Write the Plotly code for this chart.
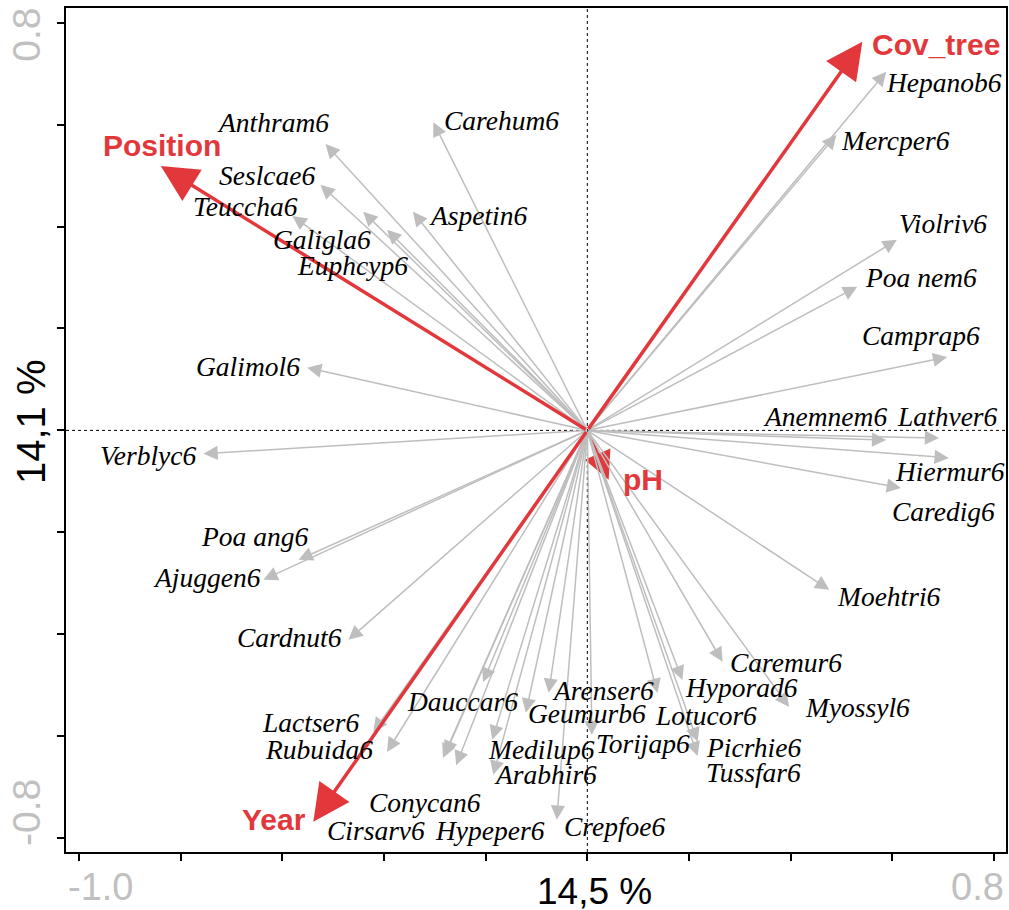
import plotly.graph_objects as go

# species scores (arrow tips)
species = [
    "Anthram6", "Seslcae6", "Teuccha6", "Galigla6", "Euphcyp6", "Carehum6",
    "Aspetin6", "Galimol6", "Verblyc6", "Poa ang6", "Ajuggen6", "Cardnut6",
    "Lactser6", "Rubuida6", "Dauccar6", "Conycan6", "Cirsarv6", "Hypeper6",
    "Medilup6", "Arabhir6", "Geumurb6", "Arenser6", "Crepfoe6", "Torijap6",
    "Lotucor6", "Hyporad6", "Caremur6", "Myossyl6", "Picrhie6", "Tussfar6",
    "Moehtri6", "Hepanob6", "Mercper6", "Violriv6", "Poa nem6", "Camprap6",
    "Anemnem6", "Lathver6", "Hiermur6", "Caredig6",
]
sp_x = [
    -0.515, -0.525, -0.580, -0.441, -0.394, -0.303,
    -0.343, -0.551, -0.755, -0.568, -0.637, -0.470,
    -0.421, -0.394, -0.205, -0.280, -0.284, -0.258,
    -0.187, -0.185, -0.121, -0.076, -0.060, 0.009,
    0.138, 0.187, 0.266, 0.397, 0.217, 0.217,
    0.476, 0.588, 0.490, 0.609, 0.531, 0.708,
    0.588, 0.692, 0.711, 0.617,
]
sp_y = [
    0.562, 0.482, 0.421, 0.429, 0.394, 0.605,
    0.429, 0.123, -0.046, -0.254, -0.293, -0.411,
    -0.592, -0.631, -0.494, -0.637, -0.643, -0.657,
    -0.607, -0.676, -0.554, -0.515, -0.764, -0.598,
    -0.515, -0.490, -0.454, -0.543, -0.611, -0.639,
    -0.313, 0.704, 0.580, 0.374, 0.282, 0.144,
    -0.019, -0.015, -0.054, -0.113,
]
# label positions for species
lab_x = [
    -0.619, -0.631, -0.672, -0.521, -0.462, -0.168,
    -0.215, -0.668, -0.865, -0.655, -0.749, -0.586,
    -0.543, -0.527, -0.246, -0.319, -0.415, -0.191,
    -0.091, -0.083, -0.001, 0.030, 0.054, 0.109,
    0.233, 0.303, 0.390, 0.531, 0.327, 0.327,
    0.594, 0.702, 0.607, 0.700, 0.657, 0.657,
    0.468, 0.708, 0.713, 0.700,
]
lab_y = [
    0.604, 0.501, 0.439, 0.374, 0.323, 0.609,
    0.421, 0.125, -0.050, -0.209, -0.288, -0.407,
    -0.574, -0.627, -0.533, -0.731, -0.786, -0.786,
    -0.627, -0.676, -0.556, -0.511, -0.778, -0.615,
    -0.560, -0.505, -0.456, -0.543, -0.623, -0.672,
    -0.327, 0.682, 0.568, 0.407, 0.301, 0.187,
    0.028, 0.028, -0.081, -0.160,
]

# environmental variables
env = ["Position", "Cov_tree", "Year", "pH"]
env_x = [-0.839, 0.541, -0.539, 0.042]
env_y = [0.519, 0.763, -0.768, -0.097]
env_lab_x = [-0.837, 0.686, -0.617, 0.109]
env_lab_y = [0.560, 0.757, -0.764, -0.097]

x_ticks = [-1.0, -0.8, -0.6, -0.4, -0.2, 0.0, 0.2, 0.4, 0.6, 0.8]
y_ticks = [-0.8, -0.6, -0.4, -0.2, 0.0, 0.2, 0.4, 0.6, 0.8]

GRAY = "#BEBEBE"
RED = "#E2383B"
TICKGRAY = "#C0C0C0"

fig = go.Figure()
# invisible trace so the axes exist
fig.add_trace(go.Scatter(x=sp_x, y=sp_y, mode="markers",
                         marker=dict(size=1, opacity=0), hoverinfo="skip",
                         showlegend=False))


def red_arrow(x, y, size=2.1):
    return dict(
        x=x, y=y, ax=0, ay=0, xref="x", yref="y", axref="x", ayref="y",
        text="", showarrow=True, arrowhead=2, arrowsize=size, arrowwidth=3.5,
        arrowcolor=RED, standoff=0,
    )


annotations = []

# the short pH arrow sits underneath the species arrows
annotations.append(red_arrow(env_x[3], env_y[3], size=1.6))

# gray species arrows
for x, y in zip(sp_x, sp_y):
    annotations.append(dict(
        x=x, y=y, ax=0, ay=0, xref="x", yref="y", axref="x", ayref="y",
        text="", showarrow=True, arrowhead=2, arrowsize=1.9, arrowwidth=1.5,
        arrowcolor=GRAY, standoff=0,
    ))

# other red environmental arrows on top
for x, y in zip(env_x[:3], env_y[:3]):
    annotations.append(red_arrow(x, y))

# species labels
for name, x, y in zip(species, lab_x, lab_y):
    annotations.append(dict(
        x=x, y=y, xref="x", yref="y", text=f"<i>{name}</i>", showarrow=False,
        font=dict(family="Liberation Serif", size=27.5, color="black"),
        xanchor="center", yanchor="middle",
    ))

# environmental labels
for name, x, y in zip(env, env_lab_x, env_lab_y):
    annotations.append(dict(
        x=x, y=y, xref="x", yref="y", text=f"<b>{name}</b>", showarrow=False,
        font=dict(family="Liberation Sans", size=30, color=RED),
        xanchor="center", yanchor="middle",
    ))

# end tick labels (R style, only extremes)
annotations += [
    dict(x=x_ticks[0], y=0, xref="x", yref="paper", text="-1.0", showarrow=False,
         xanchor="left", yanchor="top", xshift=-13, yshift=-12,
         font=dict(family="Liberation Sans", size=38, color=TICKGRAY)),
    dict(x=x_ticks[-1], y=0, xref="x", yref="paper", text="0.8", showarrow=False,
         xanchor="right", yanchor="top", xshift=12, yshift=-12,
         font=dict(family="Liberation Sans", size=38, color=TICKGRAY)),
    dict(x=0, y=y_ticks[-1], xref="paper", yref="y", text="0.8", showarrow=False,
         textangle=-90, xanchor="center", yanchor="middle", xshift=-39, yshift=-12,
         font=dict(family="Liberation Sans", size=39, color=TICKGRAY)),
    dict(x=0, y=y_ticks[0], xref="paper", yref="y", text="-0.8", showarrow=False,
         textangle=-90, xanchor="center", yanchor="middle", xshift=-39, yshift=25,
         font=dict(family="Liberation Sans", size=39, color=TICKGRAY)),
    # axis titles
    dict(x=0.5626, y=0, xref="paper", yref="paper", text="14,5 %", showarrow=False,
         xanchor="center", yanchor="top", yshift=-17,
         font=dict(family="Liberation Sans", size=37, color="black")),
    dict(x=0, y=0.5095, xref="paper", yref="paper", text="14,1 %", showarrow=False,
         textangle=-90, xanchor="center", yanchor="middle", xshift=-35,
         font=dict(family="Liberation Sans", size=40, color="black")),
]

fig.update_layout(
    width=1009,
    height=910,
    margin=dict(l=66, r=1, t=8, b=58),
    plot_bgcolor="white",
    paper_bgcolor="white",
    showlegend=False,
    annotations=annotations,
    shapes=[
        dict(type="line", xref="paper", yref="y", x0=0, x1=1, y0=0, y1=0,
             line=dict(color="black", width=1, dash="dot"), layer="below"),
        dict(type="line", xref="x", yref="paper", x0=0, x1=0, y0=0, y1=1,
             line=dict(color="black", width=1, dash="dot"), layer="below"),
    ],
)
fig.update_xaxes(
    range=[-1.0255, 0.8236], tickvals=x_ticks, showticklabels=False,
    ticks="outside", ticklen=7, tickwidth=1.5, tickcolor="black",
    showgrid=False, zeroline=False, showline=True, mirror=True,
    linecolor="black", linewidth=2,
)
fig.update_yaxes(
    range=[-0.8275, 0.829], tickvals=y_ticks, showticklabels=False,
    ticks="outside", ticklen=7, tickwidth=1.5, tickcolor="black",
    showgrid=False, zeroline=False, showline=True, mirror=True,
    linecolor="black", linewidth=2,
)

# drop the default 8px body margin so the full-size figure fills the window
fig.write_html(
    "out.html",
    config={"responsive": False, "displayModeBar": False},
    post_script=(
        "document.body.style.margin='0';"
        "document.documentElement.style.overflow='hidden';"
    ),
)
